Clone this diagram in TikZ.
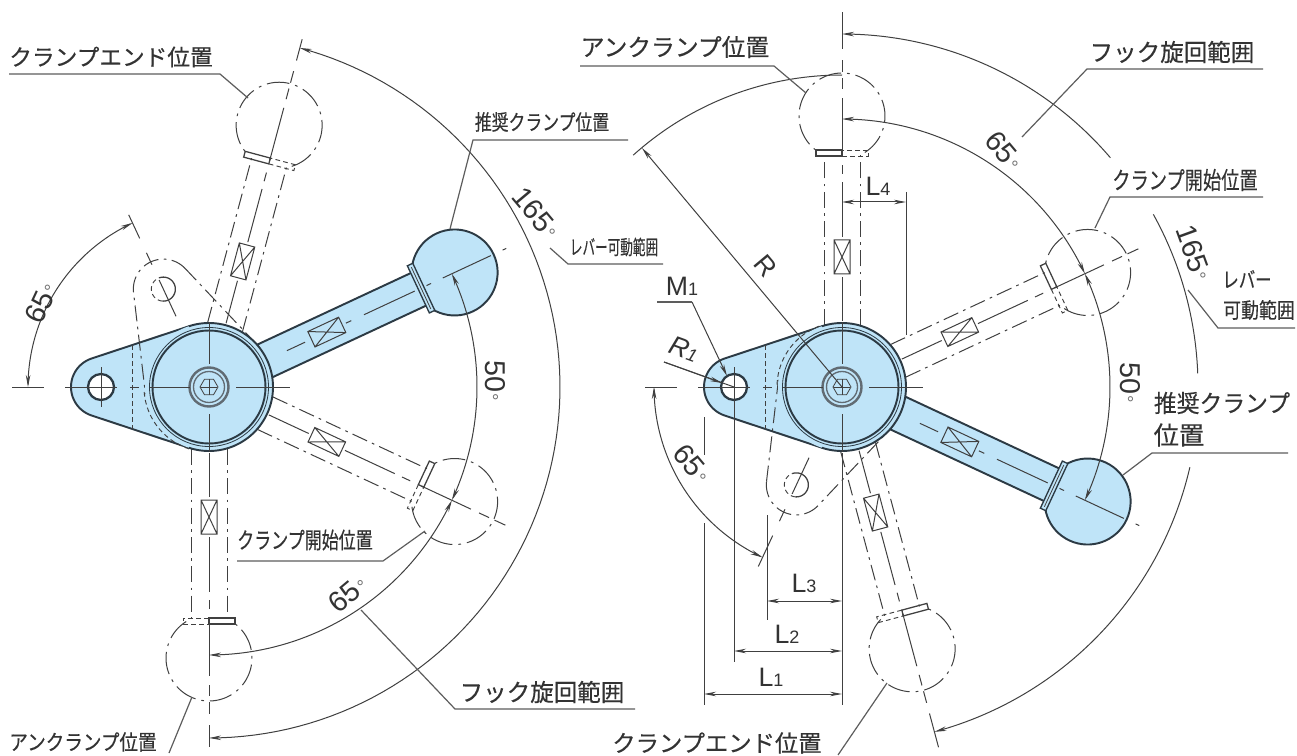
\documentclass[tikz,border=0pt]{standalone}
\usepackage{fontspec}
\usepackage{graphicx}
\usetikzlibrary{arrows.meta}
\setmainfont{Liberation Sans}
\newfontfamily\jpf[FakeBold=0.35]{Noto Sans CJK JP}
\definecolor{inkc}{HTML}{2C3A44}
\definecolor{dimc}{HTML}{404040}
\definecolor{txtc}{HTML}{333333}
\definecolor{bluef}{HTML}{BFE4F8}
\tikzset{
 fine/.style={draw=dimc,line width=0.75pt},
 leaderl/.style={draw=dimc!85,line width=0.9pt},
 heavy/.style={draw=inkc,line width=1.45pt},
 ghost/.style={draw=dimc,line width=0.75pt,dash pattern=on 12pt off 4pt on 2pt off 4pt},
 ghostb/.style={draw=dimc,line width=0.75pt,dash pattern=on 17pt off 4.5pt on 2pt off 4.5pt},
 short/.style={draw=dimc,line width=0.7pt,dash pattern=on 3.5pt off 2.5pt},
 dimarr/.style={fine,<->,>={Stealth[length=9pt,width=3.4pt]}},
 onearr/.style={fine,->,>={Stealth[length=9pt,width=3.4pt]}},
 jp/.style={inner sep=0,text=txtc},
 dg/.style={inner sep=0,text=txtc,font=\fontsize{21.5}{21.5}\selectfont},
 lb/.style={inner sep=0,text=txtc,font=\fontsize{20}{20}\selectfont},
}
\newcommand{\ARC}[6][fine]{\draw[#1] plot[domain=#5:#6,samples=90] ({#2+#4*cos(\x)},{#3+#4*sin(\x)});}
\newcommand{\jt}[3]{\scalebox{#2}[1]{\fontsize{#1}{#1}\selectfont\jpf #3}}
\newcommand{\degs}{\kern1pt{\color{dimc!75}\fontsize{14}{14}\selectfont°}}
\newcommand{\Lab}[1]{L{\fontsize{13.5}{13.5}\selectfont #1}}

\newcommand{\ghostlever}[4]{%
\begin{scope}[shift={(#1,#2)},rotate=#3]
 \draw[ghost] (62,-18)--(232,-18) (62,18)--(232,18);
 \draw[fine] (66,0)--(110,0) (150,0)--(205,0) (213,0)--(222,0) (235,0)--(289,0) (298,0)--(309,0) (315,0)--(327,0);
 \draw[fine] (113,-8) rectangle (147,8) (113,-8)--(147,8) (113,8)--(147,-8);
 \draw[draw=dimc,line width=0.95pt] (231,-26)--(237,-26)--(237,0)--(231,0)--cycle;
 \draw[short] (231,0) rectangle (237,26);
 \ARC[ghostb]{271}{0}{43}{148}{-148}
 \ifnum#4>0 \draw[fine] (338,0)--(#4,0);\fi
\end{scope}}

\newcommand{\solidlever}[3]{%
\begin{scope}[shift={(#1,#2)},rotate=#3]
 \draw[heavy,fill=bluef] (271,0) circle (43);
 \draw[heavy,fill=bluef] (30,-18) rectangle (232,18);
 \draw[draw=inkc,line width=1pt,fill=bluef] (231,-26) rectangle (237,26);
 \draw[draw=dimc,line width=0.6pt] (234,-23)--(234,23);
 \draw[fine] (0,0)--(61,0) (86,0)--(106,0) (151,0)--(157,0) (171,0)--(227,0) (240,0)--(245,0) (258,0)--(311,0) (324,0)--(328,0);
 \draw[fine] (113,-8.5) rectangle (147,8.5) (113,-8.5)--(147,8.5) (113,8.5)--(147,-8.5);
\end{scope}}

\newcommand{\solidtail}[2]{%
\begin{scope}[shift={(#1,#2)}]
 \draw[heavy,fill=bluef] plot[domain=251.6:108.4,samples=40] ({-108+30*cos(\x)},{30*sin(\x)}) -- (-20.2,60.7) -- (0,0) -- (-20.2,-60.7) -- cycle;
 \draw[short] (-77,-42)--(-77,42);
\end{scope}}

\newcommand{\ghosttail}[4]{%
\begin{scope}[shift={(#1,#2)},rotate=#3]
 \draw[ghost] plot[domain=251.6:108.4,samples=40] ({-108+30*cos(\x)},{30*sin(\x)}) -- (-20.2,60.7);
 \draw[ghost] (-117.5,-28.5) -- (-20.2,-60.7);
 \draw[fine] (-78,0)--(-118,0) (-135,0)--(-148,0) (-164,0)--(-#4,0);
 \coordinate (gh) at (-108,0);
\end{scope}
\begin{scope}[shift={(gh)}]
 \ARC[draw=dimc,line width=0.95pt]{0}{0}{12}{-110}{95}
 \ARC[short]{0}{0}{12}{95}{250}
\end{scope}}

\newcommand{\hubd}[4]{%
\begin{scope}[shift={(#1,#2)}]
 \fill[bluef] (0,0) circle (64);
 \ARC[heavy]{0}{0}{64}{251.6}{468.4}
 \ARC[short]{0}{0}{65}{#3}{#4}
 \draw[draw=inkc,line width=0.6pt] (0,0) circle (59.5);
 \draw[heavy] (0,0) circle (56.5);
 \draw[draw=inkc!75,line width=1.8pt] (0,0) circle (19.5);
 \draw[draw=inkc!75,line width=1pt] (0,0) circle (15.5);
 \draw[draw=dimc,line width=0.6pt] plot[domain=0:360,samples=7] ({9*cos(\x)},{9*sin(\x)});
 \draw[fine] (-197,0)--(-165,0) (-144,0)--(-124,0) (-124,0)--(-92,0) (-79,0)--(-70,0) (-59,0)--(-19,0) (-8,0)--(8,0) (27,0)--(81,0);
 \draw[fine] (0,-65)--(0,-23) (0,-8)--(0,8) (0,27)--(0,65);
 \draw[draw=inkc,line width=1.7pt,fill=white] (-108,0) circle (13);
 \draw[fine] (-108,-20)--(-108,20) (-124,0)--(-92,0);
\end{scope}}

\begin{document}
\begin{tikzpicture}[x=0.75pt,y=-0.75pt]
\useasboundingbox (0,0) rectangle (1297,756);
\fill[white] (0,0) rectangle (1297,756);

\ghostlever{209}{387}{75}{360}
\ghostlever{209}{387}{-25}{0}
\ghostlever{209}{387}{-90}{360}
\solidlever{209}{387}{25}
\solidtail{209}{387}
\ghosttail{209}{387}{-65}{190}
\hubd{209}{387}{108}{178}

\ARC[dimarr]{209}{387}{268}{-25}{25}
\ARC[dimarr]{209}{387}{268}{25}{90}
\ARC[dimarr]{209}{387}{351}{-75}{90}
\ARC[dimarr]{209}{387}{181}{180}{245}

\ghostlever{842}{387}{90}{375}
\ghostlever{842}{387}{25}{0}
\ghostlever{842}{387}{-75}{373}
\solidlever{842}{387}{-25}
\solidtail{842}{387}
\ghosttail{842}{387}{65}{198}
\hubd{842}{387}{182}{252}

\ARC[dimarr]{842}{387}{268}{-90}{-25}
\ARC[dimarr]{842}{387}{268}{-25}{25}
\draw[onearr] plot[domain=-40.5:-90,samples=60] ({842+353*cos(\x)},{387+353*sin(\x)});
\ARC[fine]{842}{387}{356}{-29}{-2.2}
\draw[onearr] plot[domain=13:75,samples=60] ({842+357*cos(\x)},{387+357*sin(\x)});
\ARC[dimarr]{842}{387}{188}{180}{115}
\ARC[fine]{842}{387}{312}{-90}{-132}
\coordinate (rhub) at (842,387);
\coordinate (rarc) at (642,148);
\draw[onearr] (rhub) -- (rarc);

\coordinate (c1) at (842,453); \coordinate (c2) at (842,705);
\draw[fine] (c1)--(c2);
\draw[fine] (704,417)--(704,455) (704,523)--(704,705);
\draw[fine] (734,400)--(734,662);
\draw[fine] (767,515)--(767,620);
\draw[fine] (906,192)--(906,335);
\draw[dimarr] (704,694)--(842,694);
\draw[dimarr] (734,651)--(842,651);
\draw[dimarr] (767,601)--(842,601);
\draw[dimarr] (842,202)--(906,202);
\coordinate (mk) at (692,302);
\draw[onearr] (mk) -- (727,376);
\draw[leaderl] (657,302) -- (mk);
\draw[fine] (664,362) -- (734,387);
\draw[onearr] (664,362) -- (722,383);

\draw[leaderl] (9,74)--(220,74)--(248,98);
\draw[leaderl] (628,140)--(473,140)--(450,229);
\draw[leaderl] (663,264)--(568,264)--(550,248);
\draw[leaderl] (237,561)--(383,561)--(425,531);
\draw[leaderl] (635,709)--(455,709)--(361,610);
\draw[leaderl] (192,697)--(169,753);
\draw[leaderl] (580,66)--(774,66)--(806,93);
\draw[leaderl] (1263,69)--(1087,69)--(1022,137);
\draw[leaderl] (1263,197)--(1110,197)--(1095,228);
\draw[leaderl] (1295,328)--(1218,328)--(1188,290);
\draw[leaderl] (1288,453)--(1152,453)--(1123,475);
\draw[leaderl] (887,683)--(838,755);

\node[jp] (t1) at (111,57) {\jt{17}{1}{クランプエンド位置}};
\node[jp] (t2) at (542,122) {\jt{16}{.79}{推奨クランプ位置}};
\node[jp] (t3) at (614,247) {\jt{15}{.63}{レバー可動範囲}};
\node[jp] (t4) at (305,540) {\jt{17}{.75}{クランプ開始位置}};
\node[jp] (t5) at (542,692) {\jt{18}{.98}{フック旋回範囲}};
\node[jp] (t6) at (83,742) {\jt{16}{.87}{アンクランプ位置}};
\node[jp] (t7) at (675,47) {\jt{18}{.99}{アンクランプ位置}};
\node[jp] (t8) at (1172,52) {\jt{18}{.98}{フック旋回範囲}};
\node[jp] (t9) at (1185,180) {\jt{18}{.76}{クランプ開始位置}};
\node[jp] (t10) at (1247,279) {\jt{16}{.77}{レバー}};
\node[jp] (t11) at (1259,310) {\jt{16}{.84}{可動範囲}};
\node[jp] (t12) at (1222,403) {\jt{18}{.95}{推奨クランプ}};
\node[jp] (t13) at (1179,435) {\jt{19}{1}{位置}};
\node[jp] (t14) at (717,743) {\jt{17.5}{1}{クランプエンド位置}};

\node[dg,rotate=65] (d1) at (41,303) {65\degs};
\node[dg,rotate=-50] (d2) at (536,213) {165\degs};
\node[dg,rotate=-90] (d3) at (495,381) {50\degs};
\node[dg,rotate=40] (d4) at (348,594) {65\degs};
\node[dg,rotate=-50] (d5) at (1004,151) {65\degs};
\node[dg,rotate=-70] (d6) at (1194,253) {165\degs};
\node[dg,rotate=-90] (d7) at (1130,383) {50\degs};
\node[dg,rotate=-50] (d8) at (692,464) {65\degs};

\node[lb] (l1) at (771,677) {\Lab{1}};
\node[lb] (l2) at (787,634) {\Lab{2}};
\node[lb] (l3) at (804,583) {\Lab{3}};
\node[lb] (l4) at (878,186) {\Lab{4}};
\node[lb] (m1) at (682,286) {M{\fontsize{13.5}{13.5}\selectfont 1}};
\node[lb,rotate=-20] (r1) at (684,349) {\textit{R{\fontsize{13.5}{13.5}\selectfont 1}}};
\node[lb,rotate=-50] (r0) at (766,266) {R};
\end{tikzpicture}
\end{document}
